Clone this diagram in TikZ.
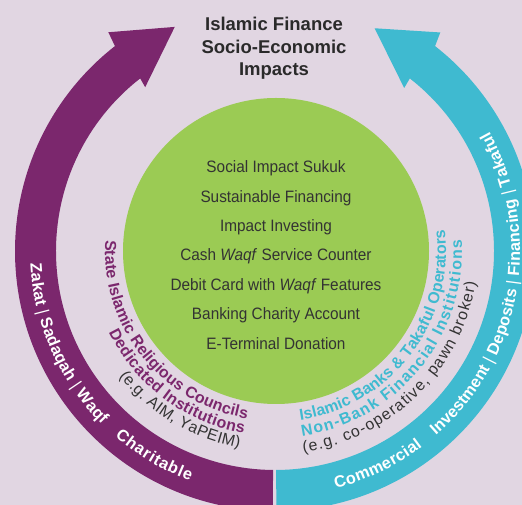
\documentclass[tikz,border=0pt]{standalone}
\usepackage{fontspec}
\setmainfont{Liberation Sans}
\newfontfamily\listfont[FakeStretch=0.93]{Liberation Sans}
\usetikzlibrary{decorations.text}
\definecolor{bgc}{HTML}{E1D6E2}
\definecolor{purp}{HTML}{7B276D}
\definecolor{cyanc}{HTML}{3FBAD0}
\definecolor{greenc}{HTML}{9BCB54}
\definecolor{titlegray}{HTML}{2A2A2A}
\definecolor{listgray}{HTML}{333333}
\newcommand\purpbold{\bfseries\fontsize{15.9pt}{15.9pt}\selectfont\color{purp}}
\newcommand\cyanbold{\bfseries\fontsize{15.9pt}{15.9pt}\selectfont\color{cyanc}}
\newcommand\grayreg{\mdseries\fontsize{15.9pt}{15.9pt}\selectfont\color{listgray}}
\newcommand\bandfont{\bfseries\fontsize{16.3pt}{16.3pt}\selectfont\color{white}}
\tikzset{
  listtext/.style={anchor=base, inner sep=0pt, text=listgray, font=\listfont\fontsize{16.5pt}{16.5pt}\selectfont},
  titletext/.style={anchor=base, inner sep=0pt, text=titlegray, font=\bfseries\fontsize{18.5pt}{18.5pt}\selectfont},
  curvetext/.style={decorate, decoration={text along path, text align=fit to path}},
}
\begin{document}
\begin{tikzpicture}
\fill[bgc] (0pt,0pt) rectangle (522pt,505pt);
\useasboundingbox (0pt,0pt) rectangle (522pt,505pt);
\coordinate (O) at (275pt,254pt);
\node[circle, fill=greenc, minimum size=306pt, inner sep=0pt] (G) at (276pt,254pt) {};
% purple arrow band
\fill[purp, shift={(O)}] (269.5:260pt) arc[start angle=269.5, end angle=128, radius=260pt]
  -- (127.3:275pt) -- (114.1:245.5pt) -- (128.4:209pt) -- (128:219pt)
  arc[start angle=128, end angle=269.5, radius=219pt] -- cycle;
% cyan arrow band
\fill[cyanc, shift={(O)}] (270.3:260pt) arc[start angle=270.3, end angle=412, radius=260pt]
  -- (412.9:274pt) -- (425.9:244pt) -- (411.6:208pt) -- (412:219pt)
  arc[start angle=412, end angle=270.3, radius=219pt] -- cycle;
% title
\node[titletext] (t1) at (274pt,474.3pt) {Islamic Finance};
\node[titletext] (t2) at (274pt,451.7pt) {Socio-Economic};
\node[titletext] (t3) at (274pt,429pt) {Impacts};
% list
\node[listtext] (l1) at (276pt,332.3pt) {Social Impact Sukuk};
\node[listtext] (l2) at (276pt,302.9pt) {Sustainable Financing};
\node[listtext] (l3) at (276pt,273.5pt) {Impact Investing};
\node[listtext] (l4) at (276pt,244.1pt) {Cash \textit{Waqf} Service Counter};
\node[listtext] (l5) at (276pt,214.7pt) {Debit Card with \textit{Waqf} Features};
\node[listtext] (l6) at (276pt,185.3pt) {Banking Charity Account};
\node[listtext] (l7) at (276pt,155.9pt) {E-Terminal Donation};
% left inner curved texts
\path[curvetext, shift={(O)}, decoration={text={|\purpbold|State Islamic Religious Councils}}]
  (176.3:170pt) arc[start angle=176.3, end angle=260.5, radius=170pt];
\path[curvetext, shift={(O)}, decoration={text={|\purpbold|Dedicated Institutions}}]
  (206:185pt) arc[start angle=206, end angle=260.3, radius=185pt];
\path[curvetext, shift={(O)}, decoration={text={|\grayreg|(e.g. AIM, YaPEIM)}}]
  (218.8:200pt) arc[start angle=218.8, end angle=259.7, radius=200pt];
% right inner curved texts
\path[curvetext, shift={(O)}, decoration={text={|\cyanbold|Islamic Banks {\&} Takaful Operators}}]
  (278.5:171pt) arc[start angle=278.5, end angle=367, radius=171pt];
\path[curvetext, shift={(O)}, decoration={text={|\cyanbold|Non-Bank Financial Institutions}}]
  (278.3:187pt) arc[start angle=278.3, end angle=363.3, radius=187pt];
\path[curvetext, shift={(O)}, decoration={text={|\grayreg|(e.g. co-operative, pawn broker)}}]
  (278:203pt) arc[start angle=278, end angle=351.2, radius=203pt];
% band texts
\path[curvetext, shift={(O)}, decoration={text={|\bandfont|Zakat {\mdseries\textbar} Sadaqah {\mdseries\textbar} Waqf}}]
  (183:245pt) arc[start angle=183, end angle=225, radius=245pt];
\path[curvetext, shift={(O)}, decoration={text={|\bandfont|Charitable}}]
  (229.2:245pt) arc[start angle=229.2, end angle=249.7, radius=245pt];
\path[curvetext, shift={(O)}, decoration={text={|\bandfont|Commercial}}]
  (284.4:245pt) arc[start angle=284.4, end angle=307, radius=245pt];
\path[curvetext, shift={(O)}, decoration={text={|\bandfont|Investment {\mdseries\textbar} Deposits {\mdseries\textbar} Financing {\mdseries\textbar} Takaful}}]
  (311:245pt) arc[start angle=311, end angle=389, radius=245pt];
\end{tikzpicture}
\end{document}
